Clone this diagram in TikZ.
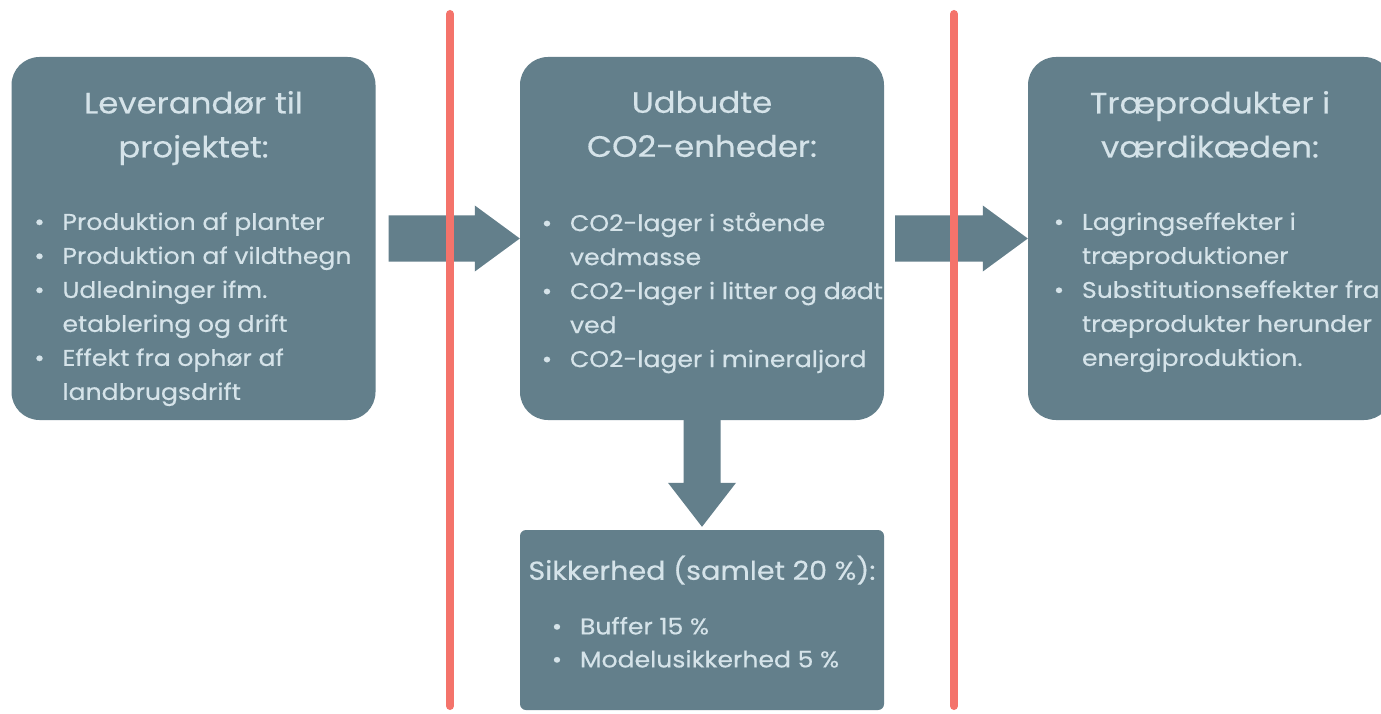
\documentclass[tikz,border=0pt]{standalone}
\usepackage{fontspec}
\setmainfont{Poppins}[FakeStretch=1.1, FakeBold=0.4]
\usetikzlibrary{calc,positioning}
\definecolor{boksfarve}{HTML}{637F8B}
\definecolor{tekstfarve}{HTML}{D5E3E9}
\definecolor{skillelinje}{HTML}{F4736B}
\newcommand{\pkt}{\makebox[46pt]{\textbullet}}
\newcommand{\fortsat}{\hspace*{46pt}}
\tikzset{
  boks/.style={fill=boksfarve, rounded corners=28pt, minimum width=364pt, minimum height=363pt, inner sep=0pt},
  titel/.style={text=tekstfarve, font=\fontsize{29.5}{44}\selectfont, align=center, inner sep=0pt, anchor=north},
  punkter/.style={text=tekstfarve, font=\fontsize{22.8}{34}\selectfont, align=left, inner sep=0pt, anchor=north west},
  pil/.style={fill=boksfarve},
  skel/.style={draw=skillelinje, line width=8pt, line cap=round}
}

\begin{document}
\begin{tikzpicture}[x=1pt,y=-1pt]
		%%%%% START %%%%%
		\useasboundingbox (0,0) rectangle (1381,714);
		\clip (0,0) rectangle (1381,714);
		\fill[white] (0,0) rectangle (1381,714);
		
		% kasser
		\node[boks] (lev) at (193.5,238.5) {};
		\node[boks] (udb) at (702,238.5) {};
		\node[boks] (trae) at (1210,238.5) {};
		\node[boks, rounded corners=6pt, minimum height=180pt] (sik) at (702,620) {};
		
		% pile
		\fill[pil] ($(lev.east)+(13,-23)$) -- ($(udb.west)+(-45,-23)$) -- ($(udb.west)+(-45,-33)$) -- (udb.west)
			-- ($(udb.west)+(-45,33)$) -- ($(udb.west)+(-45,23)$) -- ($(lev.east)+(13,23)$) -- cycle;
		\fill[pil] ($(udb.east)+(11,-23)$) -- ($(trae.west)+(-45,-23)$) -- ($(trae.west)+(-45,-33)$) -- (trae.west)
			-- ($(trae.west)+(-45,33)$) -- ($(trae.west)+(-45,23)$) -- ($(udb.east)+(11,23)$) -- cycle;
		\fill[pil] ($(udb.south)+(-18.5,0)$) -- ($(sik.north)+(-18.5,-47)$) -- ($(sik.north)+(-34,-47)$) -- ($(sik.north)+(0,-3)$)
			-- ($(sik.north)+(34,-47)$) -- ($(sik.north)+(18.5,-47)$) -- ($(udb.south)+(18.5,0)$) -- cycle;
		
		% tekster
		\node[titel] (levtitel) at ($(lev.north)+(0,34)$) {Leverandør til\\projektet:};
		\node[punkter] (levpunkter) at ($(lev.north west)+(5,155.5)$) {\pkt Produktion af planter\\ \pkt Produktion af vildthegn\\ \pkt Udledninger ifm.\\ \fortsat etablering og drift\\ \pkt Effekt fra ophør af\\ \fortsat landbrugsdrift};
		
		\node[titel] (udbtitel) at ($(udb.north)+(0,34)$) {Udbudte\\CO2-enheder:};
		\node[punkter] (udbpunkter) at ($(udb.north west)+(4,155.5)$) {\pkt CO2-lager i stående\\ \fortsat vedmasse\\ \pkt CO2-lager i litter og dødt\\ \fortsat ved\\ \pkt CO2-lager i mineraljord};
		
		\node[titel] (traetitel) at ($(trae.north)+(0,34)$) {Træprodukter i\\værdikæden:};
		\node[punkter] (traepunkter) at ($(trae.north west)+(8,155.5)$) {\pkt Lagringseffekter i\\ \fortsat træproduktioner\\ \pkt Substitutionseffekter fra\\ \fortsat træprodukter herunder\\ \fortsat energiproduktion.};
		
		\node[titel, anchor=base, font=\fontsize{26}{30}\selectfont] (siktitel) at ($(sik.north)+(0,50)$) {Sikkerhed (samlet 20 \%):};
		\node[punkter, font=\fontsize{22.8}{33}\selectfont] (sikpunkter) at ($(sik.north west)+(14,87)$) {\pkt Buffer 15 \%\\ \pkt Modelusikkerhed 5 \%};
		
		% skillelinjer
		\draw[skel] (450,14) -- (450,706);
		\draw[skel] (954,14) -- (954,706);
		%%%%% END %%%%%
\end{tikzpicture}
\end{document}
